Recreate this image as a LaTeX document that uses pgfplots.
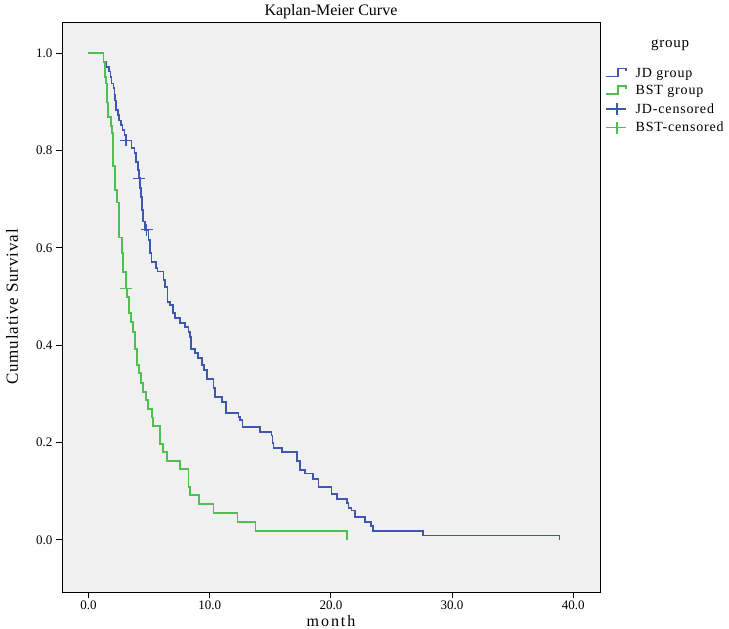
\documentclass[border=0pt]{standalone}
\usepackage{pgfplots}
\pgfplotsset{compat=1.18}
\usepackage{fontspec}
\setmainfont{Liberation Serif}
\definecolor{jd}{RGB}{62,88,172}
\definecolor{bst}{RGB}{80,190,80}
\definecolor{bg}{RGB}{240,240,240}
\begin{document}
\begin{tikzpicture}
\useasboundingbox (-62pt,-37pt) rectangle (667pt,592pt);
\begin{axis}[
  scale only axis, width=538pt, height=570pt,
  xmin=-2.18, xmax=42.2, ymin=-0.107, ymax=1.064,
  axis background/.style={fill=bg},
  axis line style={black, line width=0.9pt},
  xtick={0,10,20,30,40}, xticklabels={0.0,10.0,20.0,30.0,40.0},
  ytick={0,0.2,0.4,0.6,0.8,1.0}, yticklabels={0.0,0.2,0.4,0.6,0.8,1.0},
  tick align=outside, xtick pos=bottom, ytick pos=left,
  major tick length=6pt,
  tick style={black, line width=0.9pt},
  ticklabel style={font=\fontsize{13}{15}\selectfont},
  xticklabel style={yshift=1pt},
  title={\fontsize{16}{18}\selectfont Kaplan-Meier Curve},
  every axis title/.style={at={(axis description cs:0.5,1.0175)}, anchor=center},
  xlabel={\fontsize{16}{18}\selectfont\addfontfeature{LetterSpace=12}month},
  every axis x label/.style={at={(axis description cs:0.5,-0.051)}, anchor=center},
  ylabel={\fontsize{17}{19}\selectfont\addfontfeature{LetterSpace=5}Cumulative Survival},
  every axis y label/.style={at={(axis description cs:-0.093,0.5)}, rotate=90, anchor=center},
  legend style={at={(axis description cs:1.0037,0.925)}, anchor=north west,
    draw=none, fill=none, font=\fontsize{14}{16}\selectfont\addfontfeature{LetterSpace=6},
    row sep=5pt, nodes={inner sep=1pt},
    /tikz/every odd column/.append style={column sep=8pt}},
  legend cell align=left,
]
\addplot[const plot, jd, line width=1.5pt, forget plot] table {
0 1.0
1.23 0.982
1.43 0.972
1.70 0.962
1.84 0.951
1.92 0.938
2.05 0.928
2.14 0.914
2.19 0.903
2.28 0.883
2.42 0.873
2.52 0.862
2.67 0.852
2.80 0.842
2.96 0.832
3.10 0.821
3.57 0.805
3.79 0.795
3.93 0.776
4.07 0.760
4.17 0.743
4.26 0.723
4.34 0.704
4.42 0.678
4.50 0.654
4.67 0.637
4.94 0.616
5.08 0.589
5.22 0.571
5.58 0.559
5.68 0.551
6.18 0.534
6.32 0.520
6.54 0.489
6.73 0.483
6.96 0.466
7.15 0.456
7.56 0.446
7.97 0.437
8.24 0.427
8.38 0.417
8.47 0.392
8.80 0.384
9.04 0.374
9.37 0.359
9.54 0.349
9.79 0.331
10.32 0.312
10.45 0.294
11.02 0.283
11.33 0.261
12.37 0.253
12.51 0.246
12.73 0.232
14.16 0.222
15.12 0.214
15.17 0.199
15.26 0.189
15.95 0.181
17.21 0.162
17.46 0.144
17.87 0.136
18.53 0.125
18.97 0.109
20.07 0.094
20.49 0.084
21.31 0.076
21.44 0.066
21.72 0.060
22.00 0.047
22.82 0.037
23.29 0.029
23.46 0.018
27.58 0.009
38.85 0.0
};
\addplot[const plot, bst, line width=1.5pt, forget plot] table {
0 1.0
1.23 0.982
1.37 0.951
1.45 0.938
1.53 0.899
1.62 0.869
1.86 0.850
1.95 0.836
2.03 0.768
2.19 0.719
2.36 0.693
2.52 0.621
2.77 0.589
2.85 0.550
3.10 0.517
3.18 0.499
3.35 0.466
3.51 0.448
3.68 0.427
3.84 0.392
4.01 0.359
4.17 0.343
4.34 0.322
4.50 0.304
4.75 0.287
4.92 0.269
5.25 0.251
5.33 0.234
5.91 0.197
6.16 0.181
6.49 0.162
7.56 0.146
8.26 0.109
8.38 0.092
9.13 0.074
10.31 0.055
12.29 0.037
13.80 0.018
21.31 0.0
};
\addplot[only marks, mark=+, mark size=6pt, jd, line width=1.3pt, forget plot] table {
3.10 0.821
4.20 0.743
4.81 0.637
};
\addplot[only marks, mark=+, mark size=6pt, bst, line width=1.3pt, forget plot] table {
3.12 0.517
};
\addlegendimage{legend image code/.code={\draw[jd,line width=1.5pt] (0pt,-3pt) -- (12pt,-3pt) -- (12pt,5pt) -- (20pt,5pt) -- (20pt,2pt);}}
\addlegendentry{JD group}
\addlegendimage{legend image code/.code={\draw[bst,line width=1.5pt] (0pt,-3pt) -- (12pt,-3pt) -- (12pt,5pt) -- (20pt,5pt) -- (20pt,2pt);}}
\addlegendentry{BST group}
\addlegendimage{legend image code/.code={\draw[jd,line width=1.5pt] (0pt,0pt) -- (20pt,0pt) (11pt,-6pt) -- (11pt,6pt);}}
\addlegendentry{JD-censored}
\addlegendimage{legend image code/.code={\draw[bst,line width=1.5pt] (0pt,0pt) -- (20pt,0pt) (11pt,-6pt) -- (11pt,6pt);}}
\addlegendentry{BST-censored}
\end{axis}
\node[font=\fontsize{15}{17}\selectfont\addfontfeature{LetterSpace=5}] at (608pt,547pt) {group};
\end{tikzpicture}
\end{document}
